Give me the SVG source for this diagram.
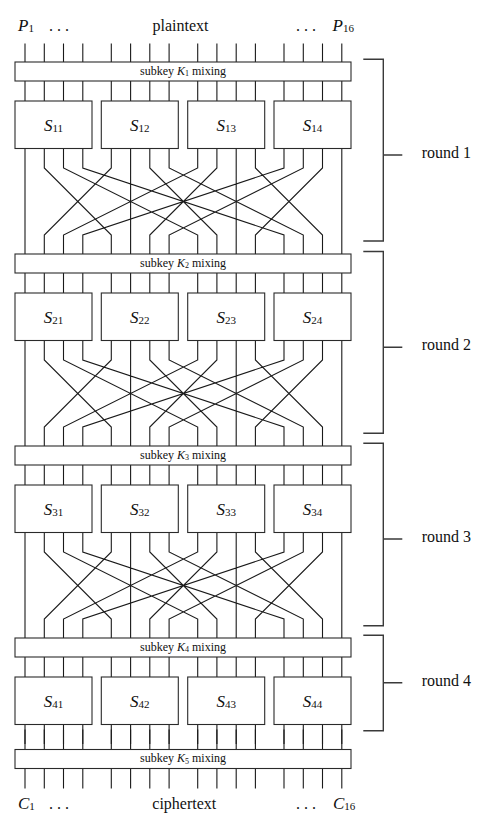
<svg xmlns="http://www.w3.org/2000/svg" xmlns:xlink="http://www.w3.org/1999/xlink" width="492" height="825" viewBox="0 0 492 825">
<style>
.w{fill:none;stroke:#1a1a1a;stroke-width:1.1}
.box{fill:#fff;stroke:#2a2a2a;stroke-width:1.1}
.br{fill:none;stroke:#3a3a3a;stroke-width:1.4}
.t{font-family:"Liberation Serif","Times New Roman",serif;fill:#111}
.k{font-size:12px;text-anchor:middle}
.s{font-size:17px;text-anchor:middle}
.io{font-size:16px}
.r{font-size:16px}
.i{font-style:italic}
</style>
<defs>
<path id="v20" d="M25 0v20M44.3 0v20M63.5 0v20M82.8 0v20M111.3 0v20M130.6 0v20M149.8 0v20M169.1 0v20M197.7 0v20M216.9 0v20M236.2 0v20M255.4 0v20M284 0v20M303.3 0v20M322.5 0v20M341.8 0v20"/>
<path id="perm" d="M25 148V254M130.6 148V254M236.2 148V254M341.8 148V254M44.3 148V168L111.3 235V254M63.5 148V168L197.7 235V254M82.8 148V168L284 235V254M111.3 148V168L44.3 235V254M149.8 148V168L216.9 235V254M169.1 148V168L303.3 235V254M197.7 148V168L63.5 235V254M216.9 148V168L149.8 235V254M255.4 148V168L322.5 235V254M284 148V168L82.8 235V254M303.3 148V168L169.1 235V254M322.5 148V168L255.4 235V254"/>
</defs>
<rect width="492" height="825" fill="#fff"/>
<g id="connectors" class="w">
<use href="#v20" transform="translate(0,43.5)"/>
<use href="#v20" transform="translate(0,81)"/>
<use href="#v20" transform="translate(0,273)"/>
<use href="#v20" transform="translate(0,465)"/>
<use href="#v20" transform="translate(0,657)"/>
<use href="#v20" transform="translate(0,724)"/>
<use href="#v20" transform="translate(0,729.5)"/>
<use href="#v20" transform="translate(0,768.5)"/>
<use href="#perm"/>
<use href="#perm" transform="translate(0,192)"/>
<use href="#perm" transform="translate(0,384)"/>
</g>
<g id="K1"><rect class="box" x="15" y="62" width="336" height="19"/><text class="t k" x="183" y="74.5">subkey <tspan class="i">K</tspan><tspan font-size="8" dy="1.5">1</tspan><tspan dy="-1.5"> mixing</tspan></text></g>
<g id="K2"><rect class="box" x="15" y="254" width="336" height="19"/><text class="t k" x="183" y="266.5">subkey <tspan class="i">K</tspan><tspan font-size="8" dy="1.5">2</tspan><tspan dy="-1.5"> mixing</tspan></text></g>
<g id="K3"><rect class="box" x="15" y="446" width="336" height="19"/><text class="t k" x="183" y="458.5">subkey <tspan class="i">K</tspan><tspan font-size="8" dy="1.5">3</tspan><tspan dy="-1.5"> mixing</tspan></text></g>
<g id="K4"><rect class="box" x="15" y="638" width="336" height="19"/><text class="t k" x="183" y="650.5">subkey <tspan class="i">K</tspan><tspan font-size="8" dy="1.5">4</tspan><tspan dy="-1.5"> mixing</tspan></text></g>
<g id="K5"><rect class="box" x="15" y="749.5" width="336" height="19"/><text class="t k" x="183" y="762">subkey <tspan class="i">K</tspan><tspan font-size="8" dy="1.5">5</tspan><tspan dy="-1.5"> mixing</tspan></text></g>
<g id="S11"><rect class="box" x="15" y="101" width="77" height="47.5"/><text class="t s" x="53.5" y="131"><tspan class="i">S</tspan><tspan font-size="11" dy="1">11</tspan></text></g>
<g id="S12"><rect class="box" x="101.3" y="101" width="77" height="47.5"/><text class="t s" x="139.8" y="131"><tspan class="i">S</tspan><tspan font-size="11" dy="1">12</tspan></text></g>
<g id="S13"><rect class="box" x="187.7" y="101" width="77" height="47.5"/><text class="t s" x="226.2" y="131"><tspan class="i">S</tspan><tspan font-size="11" dy="1">13</tspan></text></g>
<g id="S14"><rect class="box" x="274" y="101" width="77" height="47.5"/><text class="t s" x="312.5" y="131"><tspan class="i">S</tspan><tspan font-size="11" dy="1">14</tspan></text></g>
<g id="S21"><rect class="box" x="15" y="293" width="77" height="47.5"/><text class="t s" x="53.5" y="323"><tspan class="i">S</tspan><tspan font-size="11" dy="1">21</tspan></text></g>
<g id="S22"><rect class="box" x="101.3" y="293" width="77" height="47.5"/><text class="t s" x="139.8" y="323"><tspan class="i">S</tspan><tspan font-size="11" dy="1">22</tspan></text></g>
<g id="S23"><rect class="box" x="187.7" y="293" width="77" height="47.5"/><text class="t s" x="226.2" y="323"><tspan class="i">S</tspan><tspan font-size="11" dy="1">23</tspan></text></g>
<g id="S24"><rect class="box" x="274" y="293" width="77" height="47.5"/><text class="t s" x="312.5" y="323"><tspan class="i">S</tspan><tspan font-size="11" dy="1">24</tspan></text></g>
<g id="S31"><rect class="box" x="15" y="485" width="77" height="47.5"/><text class="t s" x="53.5" y="515"><tspan class="i">S</tspan><tspan font-size="11" dy="1">31</tspan></text></g>
<g id="S32"><rect class="box" x="101.3" y="485" width="77" height="47.5"/><text class="t s" x="139.8" y="515"><tspan class="i">S</tspan><tspan font-size="11" dy="1">32</tspan></text></g>
<g id="S33"><rect class="box" x="187.7" y="485" width="77" height="47.5"/><text class="t s" x="226.2" y="515"><tspan class="i">S</tspan><tspan font-size="11" dy="1">33</tspan></text></g>
<g id="S34"><rect class="box" x="274" y="485" width="77" height="47.5"/><text class="t s" x="312.5" y="515"><tspan class="i">S</tspan><tspan font-size="11" dy="1">34</tspan></text></g>
<g id="S41"><rect class="box" x="15" y="677" width="77" height="47.5"/><text class="t s" x="53.5" y="707"><tspan class="i">S</tspan><tspan font-size="11" dy="1">41</tspan></text></g>
<g id="S42"><rect class="box" x="101.3" y="677" width="77" height="47.5"/><text class="t s" x="139.8" y="707"><tspan class="i">S</tspan><tspan font-size="11" dy="1">42</tspan></text></g>
<g id="S43"><rect class="box" x="187.7" y="677" width="77" height="47.5"/><text class="t s" x="226.2" y="707"><tspan class="i">S</tspan><tspan font-size="11" dy="1">43</tspan></text></g>
<g id="S44"><rect class="box" x="274" y="677" width="77" height="47.5"/><text class="t s" x="312.5" y="707"><tspan class="i">S</tspan><tspan font-size="11" dy="1">44</tspan></text></g>
<g id="input">
<text class="t io" x="18" y="31"><tspan class="i" font-size="17">P</tspan><tspan font-size="11" dy="1">1</tspan></text>
<text class="t io" x="49" y="31">. . .</text>
<text class="t io" x="180.5" y="31" text-anchor="middle">plaintext</text>
<text class="t io" x="296" y="31">. . .</text>
<text class="t io" x="332.5" y="31"><tspan class="i" font-size="17">P</tspan><tspan font-size="11" dy="1">16</tspan></text>
</g>
<g id="output">
<text class="t io" x="18" y="809"><tspan class="i" font-size="17">C</tspan><tspan font-size="11" dy="1">1</tspan></text>
<text class="t io" x="49" y="809">. . .</text>
<text class="t io" x="184.3" y="809" text-anchor="middle">ciphertext</text>
<text class="t io" x="296" y="809">. . .</text>
<text class="t io" x="333" y="809"><tspan class="i" font-size="17">C</tspan><tspan font-size="11" dy="1">16</tspan></text>
</g>
<g id="round1"><path class="br" d="M363.3 59.3H383.3V241H363.3M383.3 155H402.3"/><text class="t r" x="421.7" y="158">round 1</text></g>
<g id="round2"><path class="br" d="M363.3 251.5H383.3V433.3H363.3M383.3 347.3H402.3"/><text class="t r" x="421.7" y="350.3">round 2</text></g>
<g id="round3"><path class="br" d="M363.3 443.3H383.3V625.7H363.3M383.3 539H402.3"/><text class="t r" x="421.7" y="542">round 3</text></g>
<g id="round4"><path class="br" d="M363.3 635.3H383.3V730.7H363.3M383.3 682.7H402.3"/><text class="t r" x="421.7" y="685.7">round 4</text></g>
</svg>
